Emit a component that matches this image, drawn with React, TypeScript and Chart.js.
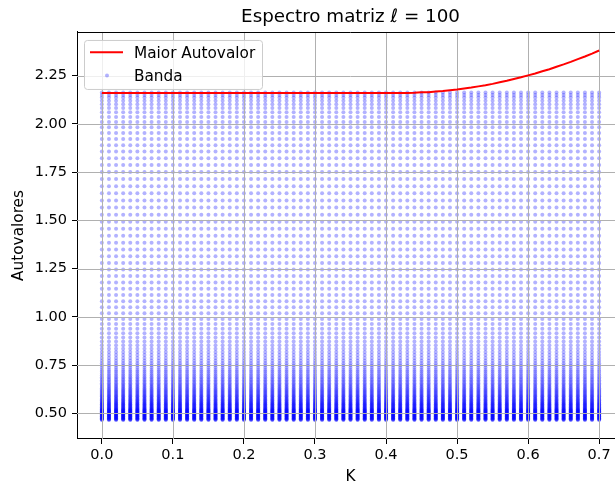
import React, { useEffect, useRef } from "react";
import { Chart, registerables } from "chart.js";

Chart.register(...registerables);

const TITLE = "Espectro matriz \u2113 = 100";
const X_LABEL = "K";
const Y_LABEL = "Autovalores";
const LINE_LABEL = "Maior Autovalor";
const BAND_LABEL = "Banda";

const K_VALUES = [
  0.0, 0.01, 0.02, 0.03, 0.04, 0.05, 0.06, 0.07, 0.08, 0.09,
  0.1, 0.11, 0.12, 0.13, 0.14, 0.15, 0.16, 0.17, 0.18, 0.19,
  0.2, 0.21, 0.22, 0.23, 0.24, 0.25, 0.26, 0.27, 0.28, 0.29,
  0.3, 0.31, 0.32, 0.33, 0.34, 0.35, 0.36, 0.37, 0.38, 0.39,
  0.4, 0.41, 0.42, 0.43, 0.44, 0.45, 0.46, 0.47, 0.48, 0.49,
  0.5, 0.51, 0.52, 0.53, 0.54, 0.55, 0.56, 0.57, 0.58, 0.59,
  0.6, 0.61, 0.62, 0.63, 0.64, 0.65, 0.66, 0.67, 0.68, 0.69,
  0.7,
];

const MAX_EIGENVALUE = [
  2.16, 2.16, 2.16, 2.16, 2.16, 2.16, 2.16, 2.16, 2.16, 2.16,
  2.16, 2.16, 2.16, 2.16, 2.16, 2.16, 2.16, 2.16, 2.16, 2.16,
  2.16, 2.16, 2.16, 2.16, 2.16, 2.16, 2.16, 2.16, 2.16, 2.16,
  2.16, 2.16, 2.16, 2.16, 2.16, 2.16, 2.16, 2.16, 2.16, 2.16,
  2.16, 2.16, 2.16, 2.16, 2.161, 2.163, 2.164, 2.167, 2.17, 2.174,
  2.178, 2.183, 2.188, 2.194, 2.2, 2.207, 2.215, 2.223, 2.232, 2.241,
  2.251, 2.261, 2.272, 2.283, 2.296, 2.308, 2.321, 2.335, 2.349, 2.364,
  2.38,
];

const BAND_LEVELS = [
  2.162, 2.15, 2.136, 2.12, 2.102, 2.082, 2.06, 2.036, 2.01, 1.982,
  1.952, 1.921, 1.889, 1.856, 1.822, 1.787, 1.751, 1.714, 1.677, 1.64,
  1.603, 1.566, 1.529, 1.492, 1.456, 1.42, 1.384, 1.349, 1.314, 1.279,
  1.245, 1.211, 1.178, 1.145, 1.113, 1.081, 1.05, 1.019, 0.989, 0.963,
  0.938, 0.915, 0.893, 0.872, 0.853, 0.835, 0.818, 0.802, 0.787, 0.773,
  0.76, 0.748, 0.736, 0.725, 0.715, 0.705, 0.696, 0.687, 0.679, 0.671,
  0.663, 0.656, 0.649, 0.642, 0.636, 0.63, 0.624, 0.618, 0.613, 0.608,
  0.603, 0.598, 0.593, 0.588, 0.584, 0.58, 0.576, 0.572, 0.568, 0.564,
  0.56, 0.556, 0.553, 0.55, 0.547, 0.544, 0.541, 0.538, 0.535, 0.532,
  0.529, 0.526, 0.523, 0.521, 0.519, 0.517, 0.515, 0.513, 0.511, 0.509,
  0.507, 0.505, 0.503, 0.501, 0.499, 0.497, 0.495, 0.493, 0.491, 0.489,
  0.487, 0.485, 0.483, 0.481, 0.479, 0.477, 0.475, 0.473, 0.471, 0.469,
  0.467, 0.465,
];

const X_TICKS = [0.0, 0.1, 0.2, 0.3, 0.4, 0.5, 0.6, 0.7];
const Y_TICKS = [0.5, 0.75, 1.0, 1.25, 1.5, 1.75, 2.0, 2.25];

const FONT = "'DejaVu Sans', sans-serif";
const BAND_COLOR = "rgba(0, 0, 255, 0.3)";
const LINE_COLOR = "#ff0000";

const gridPlugin = {
  id: "gridAboveBand",
  afterDatasetDraw(chart: any, args: any) {
    if (args.index !== 1) return;
    const { ctx, chartArea, scales } = chart;
    const { left, right, top, bottom } = chartArea;
    ctx.save();
    ctx.strokeStyle = "#b0b0b0";
    ctx.lineWidth = 1;
    ctx.beginPath();
    X_TICKS.forEach((v) => {
      const px = Math.round(scales.x.getPixelForValue(v)) + 0.5;
      ctx.moveTo(px, top);
      ctx.lineTo(px, bottom);
    });
    Y_TICKS.forEach((v) => {
      const py = Math.round(scales.y.getPixelForValue(v)) + 0.5;
      ctx.moveTo(left, py);
      ctx.lineTo(right, py);
    });
    ctx.stroke();
    ctx.restore();
  },
};

const framePlugin = {
  id: "frameAndLegend",
  afterDraw(chart: any) {
    const { ctx, chartArea } = chart;
    const { left, right, top, bottom } = chartArea;
    ctx.save();
    ctx.strokeStyle = "#000";
    ctx.lineWidth = 1;
    ctx.beginPath();
    ctx.moveTo(left, Math.round(top) + 0.5);
    ctx.lineTo(right, Math.round(top) + 0.5);
    ctx.moveTo(Math.round(right) + 0.5, top);
    ctx.lineTo(Math.round(right) + 0.5, bottom);
    ctx.stroke();

    // legend
    const bx = left + 7;
    const by = top + 8;
    const bw = 178;
    const bh = 49;
    ctx.fillStyle = "rgba(255,255,255,0.8)";
    ctx.strokeStyle = "#cccccc";
    ctx.beginPath();
    (ctx as any).roundRect(bx + 0.5, by + 0.5, bw, bh, 3);
    ctx.fill();
    ctx.stroke();

    const ds = chart.data.datasets;
    ctx.strokeStyle = LINE_COLOR;
    ctx.lineWidth = 2;
    ctx.beginPath();
    ctx.moveTo(bx + 6, by + 12.3);
    ctx.lineTo(bx + 39, by + 12.3);
    ctx.stroke();

    ctx.fillStyle = BAND_COLOR;
    ctx.beginPath();
    ctx.arc(bx + 23, by + 35.5, 2, 0, Math.PI * 2);
    ctx.fill();

    ctx.fillStyle = "#000";
    ctx.font = `15.3px ${FONT}`;
    ctx.textBaseline = "alphabetic";
    ctx.textAlign = "left";
    ctx.fillText(ds[0].label, bx + 50, by + 17.8);
    ctx.fillText(ds[1].label, bx + 50, by + 40.8);
    ctx.restore();
  },
};

export default function App() {
  const canvasRef = useRef<HTMLCanvasElement | null>(null);

  useEffect(() => {
    const canvas = canvasRef.current;
    if (!canvas) return;

    const bandPoints = K_VALUES.flatMap((k) => BAND_LEVELS.map((v) => ({ x: k, y: v })));
    const linePoints = K_VALUES.map((k, i) => ({ x: k, y: MAX_EIGENVALUE[i] }));

    const tickFont = { family: FONT, size: 14.5 };
    const labelFont = { family: FONT, size: 15.3 };

    const chart = new Chart(canvas, {
      type: "scatter",
      data: {
        datasets: [
          {
            label: LINE_LABEL,
            data: linePoints,
            showLine: true,
            borderColor: LINE_COLOR,
            backgroundColor: LINE_COLOR,
            borderWidth: 2,
            pointRadius: 0,
            pointHoverRadius: 0,
            order: 0,
          } as any,
          {
            label: BAND_LABEL,
            data: bandPoints,
            backgroundColor: BAND_COLOR,
            borderWidth: 0,
            pointRadius: 2,
            pointHoverRadius: 2,
            order: 1,
          } as any,
        ],
      },
      options: {
        responsive: false,
        animation: false,
        devicePixelRatio: 1,
        events: [],
        layout: { padding: { left: 0, right: 6, top: 0, bottom: 0 } },
        plugins: {
          legend: { display: false },
          tooltip: { enabled: false },
          title: {
            display: true,
            text: TITLE,
            fullSize: false,
            color: "#000",
            font: { family: FONT, size: 18.3, weight: "normal" },
            padding: { top: 6, bottom: 4 },
          },
        },
        scales: {
          x: {
            type: "linear",
            min: -0.035,
            max: 0.735,
            afterBuildTicks: (s: any) => {
              s.ticks = X_TICKS.map((v) => ({ value: v }));
            },
            afterFit: (s: any) => {
              s.height = 50;
            },
            ticks: {
              color: "#000",
              font: tickFont,
              padding: 3,
              maxRotation: 0,
              autoSkip: false,
              callback: (v: any) => Number(v).toFixed(1),
            },
            grid: {
              drawOnChartArea: false,
              drawTicks: true,
              tickLength: 5,
              tickColor: "#000",
              tickWidth: 1,
            },
            border: { display: true, color: "#000", width: 1 },
            title: {
              display: true,
              text: X_LABEL,
              color: "#000",
              font: labelFont,
              padding: { top: 0, bottom: 3 },
            },
          },
          y: {
            type: "linear",
            min: 0.367,
            max: 2.476,
            afterBuildTicks: (s: any) => {
              s.ticks = Y_TICKS.map((v) => ({ value: v }));
            },
            afterFit: (s: any) => {
              s.width = 77;
            },
            ticks: {
              color: "#000",
              font: tickFont,
              padding: 5,
              autoSkip: false,
              callback: (v: any) => Number(v).toFixed(2),
            },
            grid: {
              drawOnChartArea: false,
              drawTicks: true,
              tickLength: 5,
              tickColor: "#000",
              tickWidth: 1,
            },
            border: { display: true, color: "#000", width: 1 },
            title: {
              display: true,
              text: Y_LABEL,
              color: "#000",
              font: labelFont,
              padding: { top: 10, bottom: 0 },
            },
          },
        },
      } as any,
      plugins: [gridPlugin, framePlugin],
    });

    return () => chart.destroy();
  }, []);

  return (
    <div
      style={{
        position: "fixed",
        left: 0,
        top: 0,
        width: 615,
        height: 489,
        overflow: "hidden",
        background: "#fff",
      }}
    >
      <canvas ref={canvasRef} width={630} height={489} style={{ width: 630, height: 489, display: "block" }} />
    </div>
  );
}
